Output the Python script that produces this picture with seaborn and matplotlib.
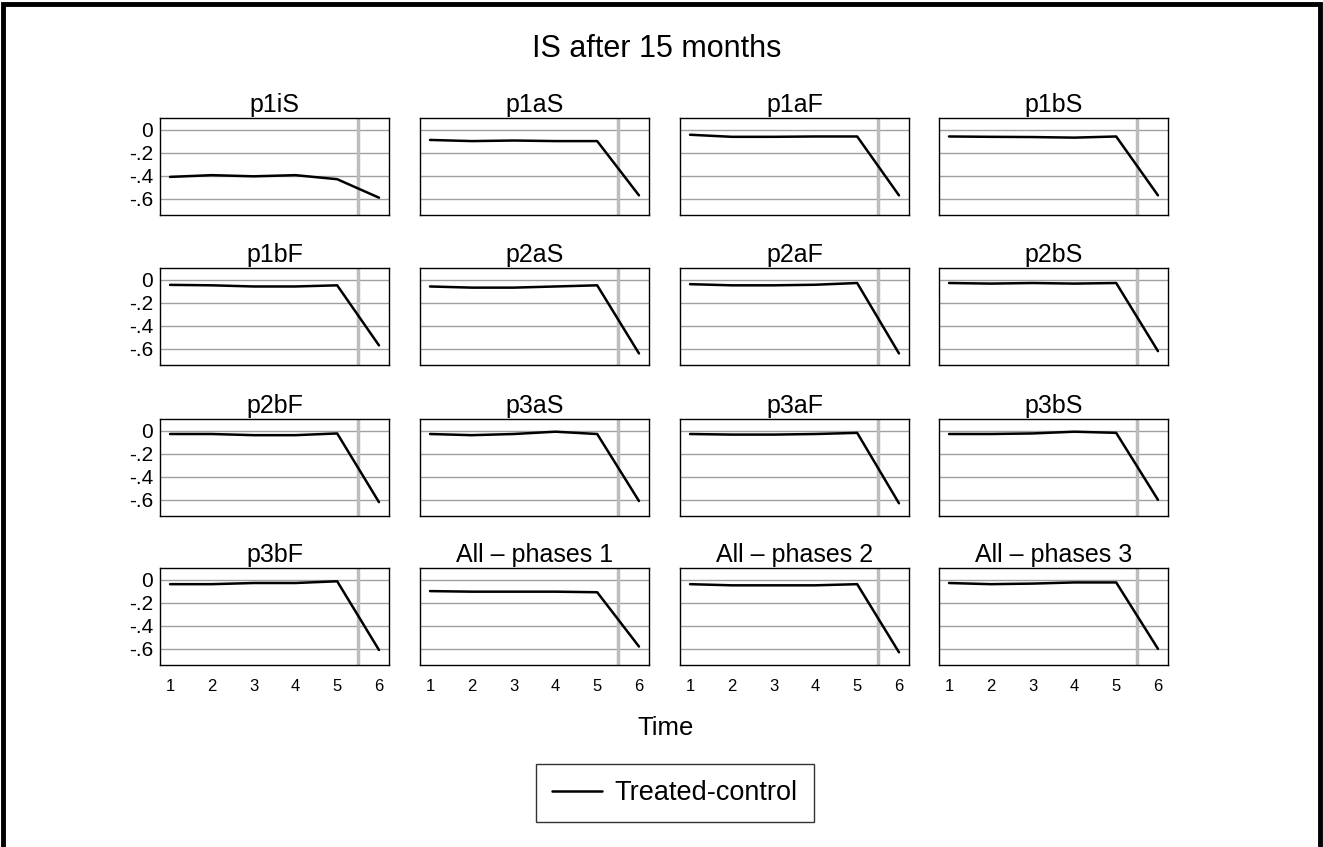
import numpy as np
import pandas as pd
import matplotlib
matplotlib.use("Agg")
import matplotlib.pyplot as plt
from matplotlib.lines import Line2D
from matplotlib.patches import Rectangle
import seaborn as sns

sns.set_style("white")
plt.rcParams['font.family'] = ['Liberation Sans', 'DejaVu Sans']
plt.rcParams['text.color'] = 'black'
plt.rcParams['xtick.color'] = 'black'
plt.rcParams['ytick.color'] = 'black'

time = [1, 2, 3, 4, 5, 6]
panel_titles = ["p1iS", "p1aS", "p1aF", "p1bS",
                "p1bF", "p2aS", "p2aF", "p2bS",
                "p2bF", "p3aS", "p3aF", "p3bS",
                "p3bF", "All \u2013 phases 1", "All \u2013 phases 2", "All \u2013 phases 3"]

p1iS = [-0.41, -0.395, -0.405, -0.395, -0.43, -0.59]
p1aS = [-0.09, -0.10, -0.095, -0.10, -0.10, -0.57]
p1aF = [-0.045, -0.063, -0.063, -0.06, -0.06, -0.57]
p1bS = [-0.06, -0.063, -0.065, -0.07, -0.06, -0.57]
p1bF = [-0.046, -0.05, -0.06, -0.06, -0.05, -0.57]
p2aS = [-0.06, -0.07, -0.07, -0.06, -0.05, -0.64]
p2aF = [-0.04, -0.05, -0.05, -0.045, -0.03, -0.64]
p2bS = [-0.03, -0.035, -0.03, -0.035, -0.03, -0.62]
p2bF = [-0.03, -0.03, -0.04, -0.04, -0.025, -0.62]
p3aS = [-0.03, -0.04, -0.03, -0.01, -0.03, -0.61]
p3aF = [-0.03, -0.035, -0.035, -0.03, -0.02, -0.63]
p3bS = [-0.03, -0.03, -0.025, -0.01, -0.02, -0.60]
p3bF = [-0.04, -0.04, -0.03, -0.03, -0.015, -0.61]
all1 = [-0.10, -0.105, -0.105, -0.105, -0.11, -0.58]
all2 = [-0.04, -0.05, -0.05, -0.05, -0.04, -0.63]
all3 = [-0.03, -0.04, -0.035, -0.025, -0.025, -0.60]

series = [p1iS, p1aS, p1aF, p1bS, p1bF, p2aS, p2aF, p2bS,
          p2bF, p3aS, p3aF, p3bS, p3bF, all1, all2, all3]

yticks = [0, -0.2, -0.4, -0.6]
ytick_labels = ["0", "-.2", "-.4", "-.6"]

W, H = 1323, 847
fig = plt.figure(figsize=(W / 100, H / 100), dpi=100)
fig.patch.set_facecolor("white")

col_left = [160, 420, 680, 939]
row_top = [118, 268, 419, 568]
pw, ph = 229, 97

for i, (title, vals) in enumerate(zip(panel_titles, series)):
    r, c = divmod(i, 4)
    ax = fig.add_axes([col_left[c] / W, 1 - (row_top[r] + ph) / H, pw / W, ph / H])
    df = pd.DataFrame({"Time": time, "value": vals})
    ax.set_yticks(yticks)
    ax.grid(axis="y", color="#a0a0a0", linewidth=1.0)
    ax.set_axisbelow(True)
    ax.axvline(5.5, color="#bdbdbd", linewidth=2.5, zorder=1)
    sns.lineplot(data=df, x="Time", y="value", ax=ax, color="black",
                 linewidth=1.8, zorder=3, legend=False)
    ax.set_xlim(0.76, 6.24)
    ax.set_ylim(-0.74, 0.1)
    ax.set_xticks(time)
    ax.set_title(title, fontsize=18, pad=4, color="black")
    ax.set_xlabel("")
    ax.set_ylabel("")
    for s in ax.spines.values():
        s.set_visible(True)
        s.set_color("black")
        s.set_linewidth(1.0)
    ax.tick_params(axis="x", length=0, labelsize=12, pad=10)
    ax.tick_params(axis="y", length=0, labelsize=15, pad=5)
    if c == 0:
        ax.set_yticklabels(ytick_labels)
    else:
        ax.set_yticklabels([])
    if r == 3:
        ax.set_xticklabels([str(t) for t in time])
    else:
        ax.set_xticklabels([])

fig.text(657 / W, 1 - 49 / H, "IS after 15 months", ha="center", va="center", fontsize=22)
fig.text(666 / W, 1 - 728 / H, "Time", ha="center", va="center", fontsize=18.5)

handle = Line2D([], [], color="black", linewidth=1.8)
leg = fig.legend([handle], ["Treated-control"], loc="center",
                 bbox_to_anchor=(675 / W, 1 - 793 / H), fontsize=19.5,
                 frameon=True, fancybox=False, handlelength=1.85,
                 borderpad=0.6, handletextpad=0.45, borderaxespad=0)
leg.get_frame().set_edgecolor("black")
leg.get_frame().set_linewidth(1.0)

fig.patches.append(Rectangle((0.002, -0.2), 0.996, 1.195, transform=fig.transFigure,
                             fill=False, edgecolor="black", linewidth=3.5))

fig.savefig("out.png", dpi=100, facecolor="white")
